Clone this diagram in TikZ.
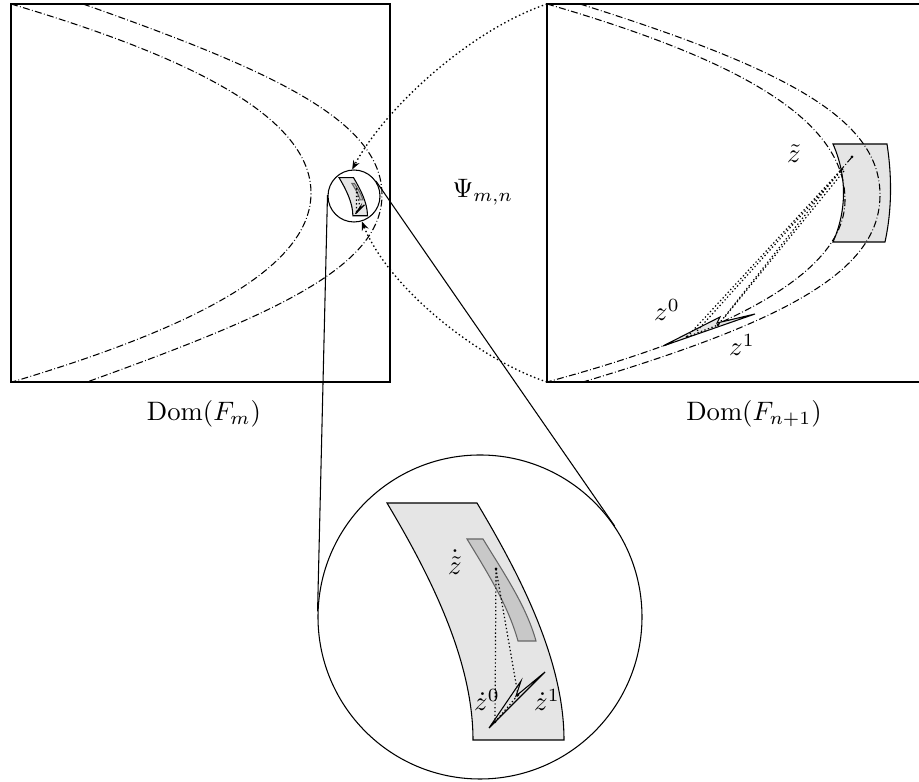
\documentclass[tikz,border=0pt]{standalone}
\usetikzlibrary{arrows.meta}
\tikzset{
  ddash/.style={line width=0.4pt, dash pattern=on 2.6pt off 0.9pt on 0.3pt off 0.9pt},
  dotl/.style={line width=0.45pt, dash pattern=on 0.5pt off 0.9pt},
  dotarrow/.style={line width=0.5pt, dash pattern=on 0.55pt off 1pt, -{Stealth[length=3.4pt,width=2.6pt]}},
  region/.style={draw, fill=gray!20},
  strip/.style={draw=black!60, fill=gray!43},
  lbl/.style={inner sep=0pt},
  ring/.style={circle, draw, inner sep=0pt},
}
\newcommand\zoomstuff{%
  \draw[region] (-93,-114) -- (-3,-114) .. controls (40,-42) and (84,43) .. (84,123)
     -- (-7,123) .. controls (-7,43) and (-50,-42) .. (-93,-114) -- cycle;
  \draw[strip] (-13,-78) -- (3,-78) .. controls (23,-45) and (46,-12) .. (56,24)
     -- (38,24) .. controls (28,-12) and (7,-45) .. (-13,-78) -- cycle;
  \draw[region] (9,111) -- (41,64) -- (36,79) -- (65,55) -- cycle;
  \draw[dotl] (16,-48) -- (15,105);
  \draw[dotl] (16,-48) -- (38,78);
  \draw[dotl] (15,105) -- (38,78);
  \fill (16,-48) circle[radius=1.5];
  \fill (15,105) circle[radius=1.5];
  \fill (38,78) circle[radius=1.5];
}
\begin{document}
\begin{tikzpicture}[x=0.375pt,y=-0.375pt]
\clip (0,0) rectangle (919,782);
% boxes
\draw (11,4) rectangle (390,382);
\draw (547,4) rectangle (930,382);
\coordinate (rbTL) at (547,4);
\coordinate (rbBL) at (547,382);
% left box curves
\draw[ddash] (11,4) .. controls (200,60) and (311,120) .. (311,193)
   .. controls (311,266) and (200,326) .. (12,382);
\draw[ddash] (83,4) .. controls (270,70) and (382,120) .. (382,195)
   .. controls (382,268) and (270,316) .. (87,382);
% right box shaded region
\draw[region] (833,144) -- (887,144) .. controls (892,176) and (892,210) .. (885,242)
   -- (833,242) .. controls (847,210) and (847,176) .. (833,144) -- cycle;
% right box curves
\draw[ddash] (547,4) .. controls (740,60) and (845,120) .. (845,200)
   .. controls (845,270) and (740,330) .. (547,382);
\draw[ddash] (580,4) .. controls (790,70) and (880,120) .. (880,195)
   .. controls (880,270) and (790,320) .. (583,382);
% wedge in right box
\draw[region] (663,346) -- (720,317) -- (717,323) -- (755,314) -- cycle;
\coordinate (zt) at (852,157);
\coordinate (ztb) at (840,171);
\coordinate (z0) at (687,337);
\coordinate (z1) at (718,325);
\draw[ddash] (zt) -- (ztb);
\draw[dotl] (ztb) -- (z0);
\draw[dotl] (843,169) -- (697,331);
\draw[dotl] (ztb) -- (z1);
\draw[dotl] (844,171) -- (724,318);
\draw[dotl] (z0) -- (z1);
\fill (zt) circle[radius=1.5];
\fill (z0) circle[radius=1.5];
\fill (z1) circle[radius=1.5];
\node[lbl] (lzt) at (794,154) {$\tilde z$};
\node[lbl] (lz0) at (667,310) {$z^0$};
\node[lbl] (lz1) at (742,345) {$z^1$};
% circles
\node[ring, minimum size=19.5pt] (sc) at (354,196) {};
\node[ring, minimum size=121.5pt] (bc) at (480,617) {};
\draw (sc.178.63) -- (bc.178.63);
\draw (sc.34.69) -- (bc.34.69);
\begin{scope}[shift={(354,196)}, scale=0.1605]
  \zoomstuff
\end{scope}
\begin{scope}[shift={(480,617)}]
  \zoomstuff
\end{scope}
\node[lbl] (lbzt) at (455,562) {$\dot{\tilde z}$};
\node[lbl] (lbz0) at (487,700) {$\dot z^0$};
\node[lbl] (lbz1) at (547,700) {$\dot z^1$};
% dotted arrows (Psi)
\draw[dotarrow] (rbTL) .. controls (470,30) and (385,108) .. (sc.94.6);
\draw[dotarrow] (rbBL) .. controls (480,360) and (390,290) .. (sc.-73);
\node[lbl, anchor=base west] (psi) at (452,198) {$\Psi_{m,n}$};
% domain labels
\node[lbl] (dm) at (204,414) {$\mathrm{Dom}(F_m)$};
\node[lbl] (dn) at (754,414) {$\mathrm{Dom}(F_{n+1})$};
\end{tikzpicture}
\end{document}
